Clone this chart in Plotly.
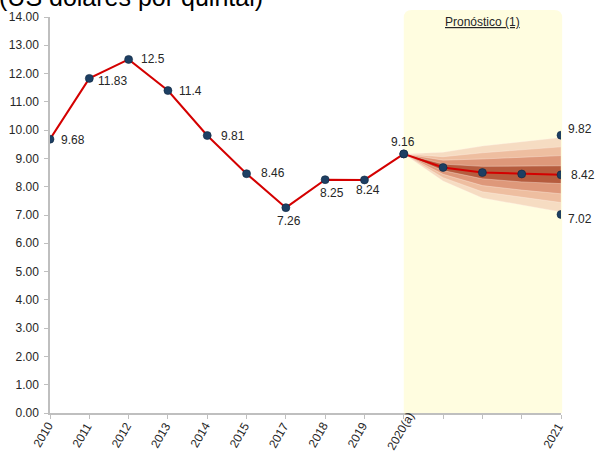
import plotly.graph_objects as go

# Historical coffee prices (US$ per quintal)
years = ["2010", "2011", "2012", "2013", "2014", "2015", "2017", "2018", "2019", "2020(a)"]
prices = [9.68, 11.83, 12.5, 11.4, 9.81, 8.46, 7.26, 8.25, 8.24, 9.16]

# Forecast path from 2020(a) to 2021 (five positions, the last one is 2021)
fc_center = [9.16, 8.68, 8.50, 8.45, 8.42]
band4_hi = [9.16, 9.22, 9.44, 9.58, 9.74]
band4_lo = [9.16, 8.20, 7.60, 7.35, 7.11]
band3_hi = [9.16, 9.06, 9.20, 9.30, 9.41]
band3_lo = [9.16, 8.32, 7.82, 7.62, 7.44]
band2_hi = [9.16, 8.94, 8.98, 9.03, 9.10]
band2_lo = [9.16, 8.44, 8.04, 7.88, 7.75]
band1_hi = [9.16, 8.80, 8.72, 8.72, 8.74]
band1_lo = [9.16, 8.57, 8.28, 8.17, 8.11]
range_2021 = [9.82, 7.02]

tick_text = years + ["", "", "", "2021"]

hist_x = list(range(len(years)))
fc_x = list(range(len(years) - 1, len(years) - 1 + len(fc_center)))
last_x = fc_x[-1]

RED = "#d40000"
NAVY = "#1d3f63"
TXT = "#262626"
AXIS = "#bfbfbf"
FONT = "Arial, Liberation Sans, sans-serif"

fig = go.Figure()

bands = [
    (band4_hi, band4_lo, "rgb(246,220,194)"),
    (band3_hi, band3_lo, "rgb(238,190,160)"),
    (band2_hi, band2_lo, "rgb(222,152,122)"),
    (band1_hi, band1_lo, "rgb(182,92,62)"),
]
for hi, lo, col in bands:
    fig.add_trace(go.Scatter(
        x=fc_x + fc_x[::-1], y=hi + lo[::-1],
        fill="toself", fillcolor=col, mode="lines",
        line=dict(width=0.6, color="rgba(255,245,235,0.6)"),
        hoverinfo="skip", showlegend=False,
    ))

marker = dict(size=8, color=NAVY, line=dict(width=0.6, color="#0f2740"))

fig.add_trace(go.Scatter(x=hist_x, y=prices, mode="lines+markers",
                         line=dict(color=RED, width=2), marker=marker, showlegend=False))
fig.add_trace(go.Scatter(x=fc_x, y=fc_center, mode="lines+markers",
                         line=dict(color=RED, width=2), marker=marker, showlegend=False))
fig.add_trace(go.Scatter(x=[last_x, last_x], y=range_2021, mode="markers",
                         marker=marker, showlegend=False))

# Forecast zone with rounded top corners (paper coordinates)
x0 = (len(years) - 1) / last_x
x1 = 1.0023
y1 = 1.0177
rx, ry = 0.0157, 0.0202
fig.add_shape(
    type="path", xref="paper", yref="paper", layer="below",
    path=(f"M {x0},0 L {x0},{y1 - ry} Q {x0},{y1} {x0 + rx},{y1} "
          f"L {x1 - rx},{y1} Q {x1},{y1} {x1},{y1 - ry} L {x1},0 Z"),
    fillcolor="#fffde0", line=dict(width=0),
)

# Value labels
label_font = dict(family=FONT, size=12, color=TXT)
hist_offsets = [
    ("left", 9, -1), ("left", 7, -3), ("left", 10, 0), ("left", 9, 0),
    ("left", 12, 0), ("left", 12, 1), ("center", 3, -13), ("center", 7, -13),
    ("center", 4, -10), ("center", -1, 12),
]
for xi, v, (anc, dx, dy) in zip(hist_x, prices, hist_offsets):
    fig.add_annotation(x=xi, y=v, text=f"{v:g}", showarrow=False, xanchor=anc,
                       yanchor="middle", xshift=dx, yshift=dy, font=label_font)

end_labels = [(range_2021[0], 5, 6), (fc_center[-1], 8, 0), (range_2021[1], 5, -5)]
for v, dx, dy in end_labels:
    fig.add_annotation(x=last_x, y=v, text=f"{v:.2f}", showarrow=False, xanchor="left",
                       yanchor="middle", xshift=dx, yshift=dy, font=label_font)

# Slanted category labels, centred a little below-left of each tick
tick_label_shift = {"2020(a)": (-3, -18), "2021": (-8, -23)}
for i, lab in enumerate(tick_text):
    if not lab:
        continue
    dx, dy = tick_label_shift.get(lab, (-7, -22))
    fig.add_annotation(x=i, y=0, yref="y", text=lab, textangle=-60, showarrow=False,
                       xanchor="center", yanchor="middle", xshift=dx, yshift=dy,
                       font=dict(family=FONT, size=12, color=TXT))

fig.add_annotation(x=fc_x[2], y=1.0, xref="x", yref="paper", yanchor="middle", yshift=-5,
                   text="<u>Pronóstico (1)</u>", showarrow=False,
                   font=dict(family=FONT, size=12, color=TXT))

fig.add_annotation(x=0, y=1.0, xref="paper", yref="paper", xanchor="left", yanchor="bottom",
                   xshift=-53, yshift=4, text="(US dólares por quintal)", showarrow=False,
                   font=dict(family=FONT, size=25, color="#000000"))

fig.update_layout(
    width=598, height=451,
    margin=dict(l=50, r=37, t=17, b=38),
    paper_bgcolor="white", plot_bgcolor="rgba(0,0,0,0)",
    font=dict(family=FONT, size=12, color=TXT),
)
fig.update_xaxes(
    range=[0, last_x], tickvals=list(range(len(tick_text))), showticklabels=False,
    showgrid=False, zeroline=False,
    showline=True, linecolor=AXIS, linewidth=1.5, ticks="outside", ticklen=4,
    tickcolor=AXIS, automargin=False,
)
fig.update_yaxes(
    range=[0, 14], dtick=1, tickformat=".2f", showgrid=False, zeroline=False,
    showline=True, linecolor=AXIS, linewidth=1.5, ticks="outside", ticklen=4,
    tickcolor=AXIS, tickfont=dict(size=12), automargin=False, ticklabelstandoff=3,
)

fig.write_html("out.html")
